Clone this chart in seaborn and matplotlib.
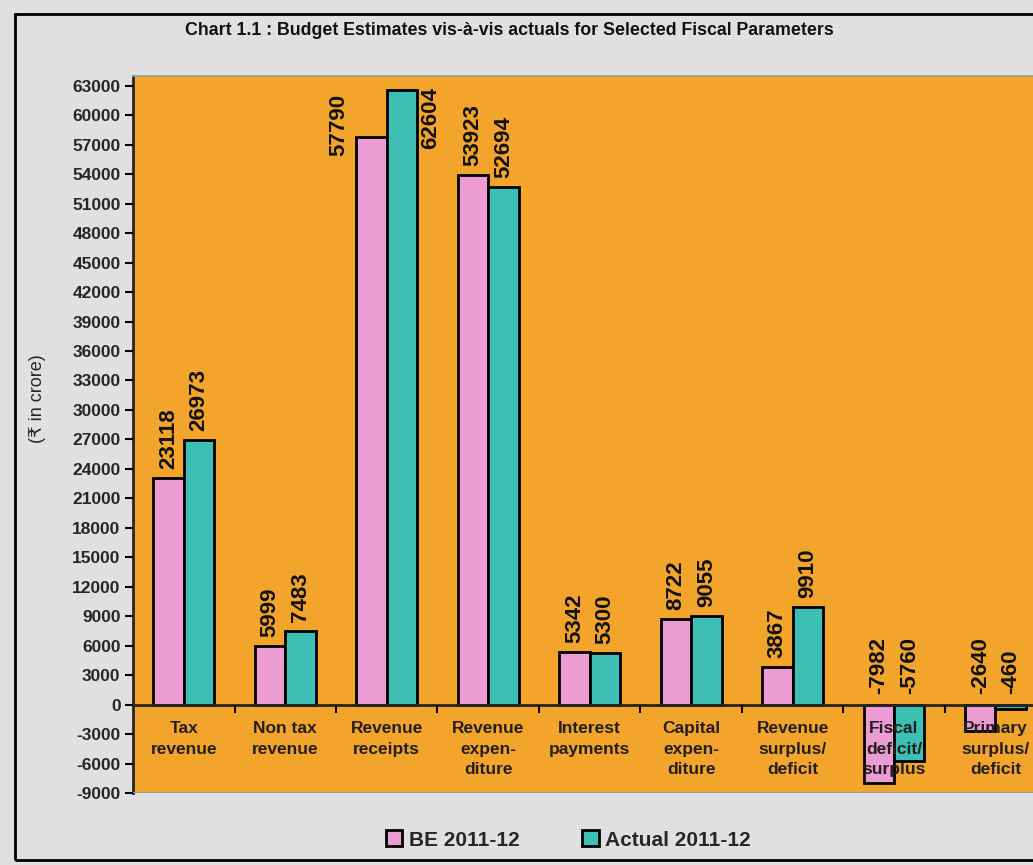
import pandas as pd
import seaborn as sns
import matplotlib.pyplot as plt
from matplotlib.patches import Rectangle

# Data
PARAMS = ["Tax\nrevenue", "Non tax\nrevenue", "Revenue\nreceipts", "Revenue\nexpen-\nditure",
          "Interest\npayments", "Capital\nexpen-\nditure", "Revenue\nsurplus/\ndeficit",
          "Fiscal\ndeficit/\nsurplus", "Primary\nsurplus/\ndeficit"]
BE_2011_12 = [23118, 5999, 57790, 53923, 5342, 8722, 3867, -7982, -2640]
ACTUAL_2011_12 = [26973, 7483, 62604, 52694, 5300, 9055, 9910, -5760, -460]
SERIES = ["BE 2011-12", "Actual 2011-12"]
YTICKS = list(range(-9000, 63001, 3000))

PINK = "#eb9cd3"
TEAL = "#3dbfb3"
ORANGE = "#f3a52b"
BG = "#e0e0e0"

df = pd.DataFrame({
    "param": PARAMS * 2,
    "value": BE_2011_12 + ACTUAL_2011_12,
    "series": [SERIES[0]] * len(PARAMS) + [SERIES[1]] * len(PARAMS),
})

sns.set_theme(style="white")
plt.rcParams["font.family"] = ["Liberation Sans", "DejaVu Sans"]

fig = plt.figure(figsize=(10.33, 8.65), dpi=100, facecolor=BG)
ax = fig.add_axes([0.1288, 0.0832, 0.884, 0.829])
ax.set_facecolor(ORANGE)

sns.barplot(data=df, x="param", y="value", hue="series", order=PARAMS,
            palette=[PINK, TEAL], width=0.6, saturation=1,
            edgecolor="black", linewidth=2, ax=ax)

# value labels
for k, (cont, vals) in enumerate(zip(ax.containers, [BE_2011_12, ACTUAL_2011_12])):
    for p, v in zip(cont.patches, vals):
        xc = p.get_x() + p.get_width() / 2
        if v > 55000:
            # tall bars: label sits beside the bar
            if k == 0:
                ax.text(xc - 0.32, v + 1200, f"{v}", rotation=90, ha="center", va="center",
                        fontsize=16, fontweight="bold", color="#111111")
            else:
                ax.text(xc + 0.28, v - 2900, f"{v}", rotation=90, ha="center", va="center",
                        fontsize=16, fontweight="bold", color="#111111")
        else:
            y0 = v + 900 if v > 0 else 1100
            ax.text(xc, y0, f"{v}", rotation=90, ha="center", va="bottom",
                    fontsize=16, fontweight="bold", color="#111111")

ax.set_ylim(-9000, 64000)
ax.set_xlim(-0.5, len(PARAMS) - 0.5)
ax.set_yticks(YTICKS)
ax.set_yticklabels([str(t) for t in YTICKS], fontsize=12.5, fontweight="bold")
ax.tick_params(axis="y", direction="out", length=6, width=1.5, color="black", pad=3, left=True)

ax.set_axisbelow(False)
ax.xaxis.set_zorder(5)
ax.spines["bottom"].set_position(("data", 0))
ax.spines["bottom"].set_linewidth(2)
ax.spines["left"].set_linewidth(2)
ax.spines["top"].set_color("#9a9a9a")
ax.spines["right"].set_visible(False)
ax.axhline(-9000, color="#9a9a9a", lw=1.5, zorder=3)

ax.set_xticks(range(len(PARAMS)))
ax.set_xticklabels(PARAMS, fontsize=12.5, fontweight="bold", color="#231f20", linespacing=1.45)
ax.tick_params(axis="x", which="major", length=0, pad=12, bottom=True)
ax.set_xticks([i + 0.5 for i in range(len(PARAMS) - 1)], minor=True)
ax.tick_params(axis="x", which="minor", direction="out", length=6, width=1.5, color="black", bottom=True)
for lab in ax.get_xticklabels():
    lab.set_verticalalignment("top")

ax.set_xlabel("")
ax.set_ylabel("(\u20b9 in crore)", fontsize=13, labelpad=14)
ax.yaxis.set_label_coords(-0.095, 0.55)

handles, labels = ax.get_legend_handles_labels()
ax.get_legend().remove()
fig.legend(handles, labels, loc="center", bbox_to_anchor=(0.55, 0.029), ncol=2, frameon=False,
           prop={"size": 15, "weight": "bold"}, handlelength=0.8, handleheight=0.8,
           handletextpad=0.3, columnspacing=3.0)

fig.text(0.493, 0.965, "Chart 1.1 : Budget Estimates vis-\u00e0-vis actuals for Selected Fiscal Parameters",
         ha="center", va="center", fontsize=12.8, fontweight="bold", color="#111111")

# frame around the panel
fig.patches.append(Rectangle((0.0145, 0.006), 1.0, 0.978, transform=fig.transFigure,
                             fill=False, edgecolor="black", lw=2))

fig.savefig("out.png", dpi=100, facecolor=BG)
